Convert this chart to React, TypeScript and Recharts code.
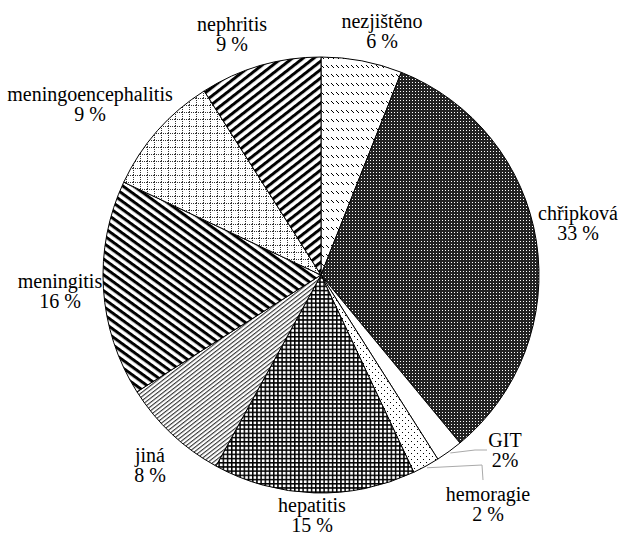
import { PieChart, Pie, Cell } from 'recharts';

// categories, clockwise from 12 o'clock
const CATEGORIES = [
  'nezjištěno',
  'chřipková',
  'GIT',
  'hemoragie',
  'hepatitis',
  'jiná',
  'meningitis',
  'meningoencephalitis',
  'nephritis',
];
const SHARES = [6, 33, 2, 2, 15, 8, 16, 9, 9];
const SHARE_TEXT = ['6 %', '33 %', '2%', '2 %', '15 %', '8 %', '16 %', '9 %', '9 %'];

const FILLS = [
  'url(#pNezj)',
  'url(#pChrip)',
  '#ffffff',
  'url(#pHemo)',
  'url(#pHep)',
  'url(#pJina)',
  'url(#pMen)',
  'url(#pMenEnc)',
  'url(#pNeph)',
];

const CX = 321;
const CY = 275;
const R = 218;
const RAD = Math.PI / 180;

// label anchor relative to pie centre: text centre x, first baseline y
const LABEL_OFFSETS = [
  { dx: 61, dy: -247 },
  { dx: 257, dy: -55 },
  { dx: 184, dy: 172 },
  { dx: 167, dy: 226 },
  { dx: -9, dy: 237 },
  { dx: -171, dy: 187 },
  { dx: -261, dy: 13 },
  { dx: -231, dy: -174 },
  { dx: -89, dy: -244 },
];

const data = CATEGORIES.map((name, i) => ({ name, value: SHARES[i] }));

const FONT = 'Liberation Serif, Times New Roman, serif';

function renderLabel(props: any) {
  const i = props.index;
  const cx = props.cx ?? CX;
  const cy = props.cy ?? CY;
  const x = cx + LABEL_OFFSETS[i].dx;
  const y = cy + LABEL_OFFSETS[i].dy;
  const a = -props.midAngle * RAD;
  const ex = cx + (props.outerRadius + 2) * Math.cos(a);
  const ey = cy + (props.outerRadius + 2) * Math.sin(a);

  let leader = null;
  if (CATEGORIES[i] === 'GIT') {
    leader = (
      <polyline
        points={`${ex},${ey} ${x - 30},${y + 3} ${x - 18},${y + 3}`}
        fill="none"
        stroke="#aaa"
      />
    );
  } else if (CATEGORIES[i] === 'hemoragie') {
    leader = (
      <polyline
        points={`${ex},${ey} ${x - 6},${y - 36} ${x - 5},${y - 21}`}
        fill="none"
        stroke="#aaa"
      />
    );
  }

  return (
    <g key={`lbl-${i}`}>
      {leader}
      <text x={x} y={y} textAnchor="middle" fontFamily={FONT} fontSize={20} fill="#000">
        {CATEGORIES[i]}
      </text>
      <text x={x} y={y + 20} textAnchor="middle" fontFamily={FONT} fontSize={20} fill="#000">
        {SHARE_TEXT[i]}
      </text>
    </g>
  );
}

export default function App() {
  return (
    <div style={{ position: 'absolute', left: 0, top: 0, background: '#fff', fontFamily: FONT }}>
      <PieChart width={620} height={538} margin={{ top: 0, right: 0, bottom: 0, left: 0 }}>
        <defs>
          <pattern id="pNezj" width="5" height="9" patternUnits="userSpaceOnUse">
            <rect width="5" height="9" fill="#fff" />
            <line x1="1" y1="2" x2="4" y2="5" stroke="#000" strokeWidth="1" />
          </pattern>
          <pattern id="pChrip" width="3" height="3" patternUnits="userSpaceOnUse">
            <rect width="3" height="3" fill="#222" />
            <rect x="1" y="1" width="1" height="1" fill="#fff" />
          </pattern>
          <pattern id="pHemo" width="6" height="6" patternUnits="userSpaceOnUse">
            <rect width="6" height="6" fill="#fff" />
            <rect x="0" y="0" width="1" height="1" fill="#000" />
            <rect x="3" y="3" width="1" height="1" fill="#000" />
          </pattern>
          <pattern id="pHep" width="4.2" height="4.2" patternUnits="userSpaceOnUse">
            <rect width="4.2" height="4.2" fill="#fff" />
            <rect x="0" y="0" width="4.2" height="1.5" fill="#000" />
            <rect x="0" y="0" width="1.5" height="4.2" fill="#000" />
          </pattern>
          <pattern
            id="pJina"
            width="4"
            height="3.3"
            patternUnits="userSpaceOnUse"
            patternTransform="rotate(-38)"
          >
            <rect width="4" height="3.3" fill="#fff" />
            <rect width="4" height="1.1" fill="#333" />
          </pattern>
          <pattern
            id="pMen"
            width="6"
            height="6.4"
            patternUnits="userSpaceOnUse"
            patternTransform="rotate(36)"
          >
            <rect width="6" height="6.4" fill="#fff" />
            <rect width="6" height="3" fill="#000" />
          </pattern>
          <pattern id="pMenEnc" width="7" height="7" patternUnits="userSpaceOnUse">
            <rect width="7" height="7" fill="#fff" />
            <rect x="0" y="0" width="1" height="1" fill="#333" />
            <rect x="2" y="0" width="1" height="1" fill="#333" />
            <rect x="4" y="0" width="1" height="1" fill="#333" />
            <rect x="6" y="0" width="1" height="1" fill="#333" />
            <rect x="0" y="2" width="1" height="1" fill="#333" />
            <rect x="0" y="4" width="1" height="1" fill="#333" />
            <rect x="0" y="6" width="1" height="1" fill="#333" />
          </pattern>
          <pattern
            id="pNeph"
            width="6"
            height="6.6"
            patternUnits="userSpaceOnUse"
            patternTransform="rotate(-38)"
          >
            <rect width="6" height="6.6" fill="#fff" />
            <rect width="6" height="3" fill="#000" />
          </pattern>
        </defs>
        <Pie
          data={data}
          dataKey="value"
          nameKey="name"
          cx={CX}
          cy={CY}
          outerRadius={R}
          startAngle={90}
          endAngle={-270}
          stroke="#000"
          strokeWidth={1}
          label={renderLabel}
          labelLine={false}
          isAnimationActive={false}
        >
          {data.map((d, i) => (
            <Cell key={d.name} fill={FILLS[i]} />
          ))}
        </Pie>
      </PieChart>
    </div>
  );
}
